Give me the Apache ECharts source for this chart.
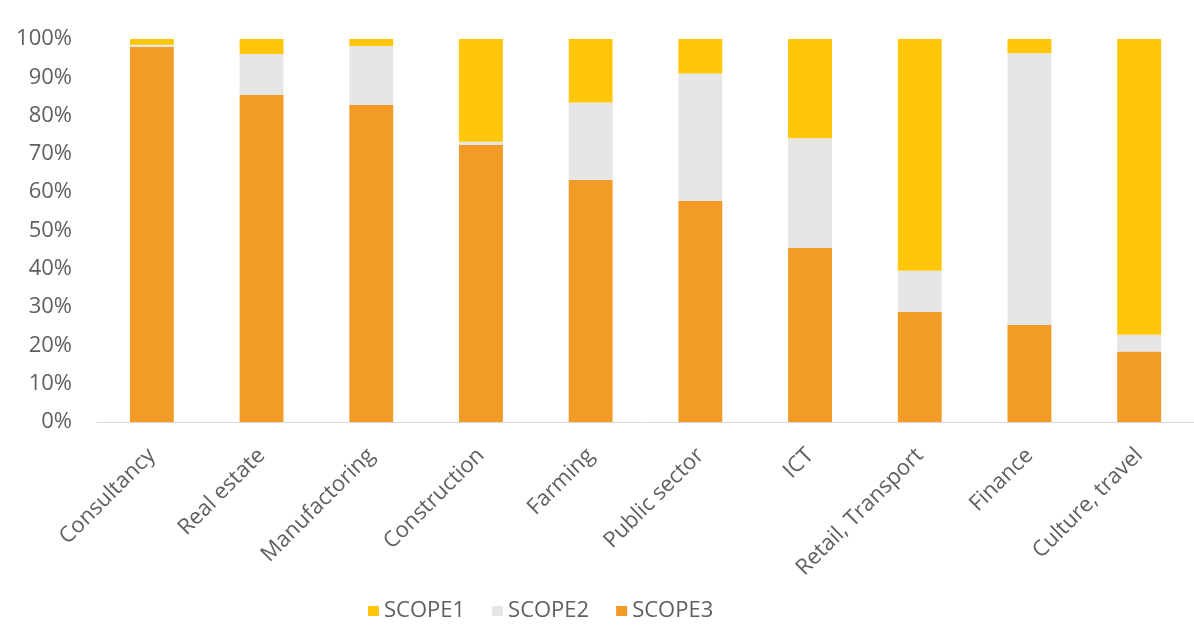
<!DOCTYPE html>
<html>
<head>
<meta charset="utf-8">
<script src="https://cdn.jsdelivr.net/npm/echarts@6/dist/echarts.min.js"></script>
<style>html,body{margin:0;padding:0;background:#fff}#c{width:1194px;height:627px}</style>
</head>
<body>
<div id="c"></div>
<script>
const categories = ["Consultancy","Real estate","Manufactoring","Construction","Farming","Public sector","ICT","Retail, Transport","Finance","Culture, travel"];
const scope1 = [1.5, 3.9, 1.8, 26.8, 16.6, 9.0, 25.9, 60.5, 3.7, 77.2];
const scope2 = [0.5, 10.7, 15.4, 0.9, 20.2, 33.3, 28.6, 10.7, 71.0, 4.4];
const scope3 = [98.0, 85.4, 82.8, 72.3, 63.2, 57.7, 45.5, 28.8, 25.3, 18.4];
const seriesNames = ["SCOPE1","SCOPE2","SCOPE3"];
const yTicks = [0,10,20,30,40,50,60,70,80,90,100];

const FONT = "Open Sans";
const TXT = '#606060';
const chart = echarts.init(document.getElementById('c'));
const mk = (name, data, color) => ({
  name, type: 'bar', stack: 'total', data, barWidth: '40%',
  itemStyle: { color }, emphasis: { disabled: true }
});
chart.setOption({
  animation: false,
  textStyle: { fontFamily: FONT },
  grid: { left: 97, width: 1105, top: 39, bottom: 205, containLabel: false },
  legend: {
    data: seriesNames, top: 595, left: 363, icon: 'rect',
    itemWidth: 11, itemHeight: 10, itemGap: 27,
    textStyle: { fontFamily: FONT, fontSize: 22, color: TXT }
  },
  xAxis: {
    type: 'category', data: categories,
    axisLine: { lineStyle: { color: '#d9d9d9', width: 1 } },
    axisTick: { show: false },
    axisLabel: { rotate: 45, fontSize: 22, color: TXT, fontFamily: FONT, margin: 30, interval: 0 }
  },
  yAxis: {
    type: 'value', min: yTicks[0], max: yTicks[yTicks.length-1], interval: 10,
    splitLine: { show: false }, axisLine: { show: false }, axisTick: { show: false },
    axisLabel: { formatter: v => v + '%', fontSize: 22, color: TXT, fontFamily: FONT, margin: 25 }
  },
  series: [
    mk(seriesNames[2], scope3, '#F29B26'),
    mk(seriesNames[1], scope2, '#E6E6E6'),
    mk(seriesNames[0], scope1, '#FFC60A')
  ]
});
</script>
</body>
</html>
